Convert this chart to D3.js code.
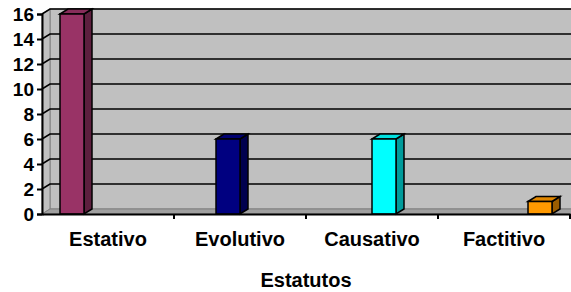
<!DOCTYPE html>
<html>
<head>
<meta charset="utf-8">
<script src="https://cdn.jsdelivr.net/npm/d3@7"></script>
<style>
body { margin: 0; background: #fff; }
text { font-family: Arial, "Liberation Sans", sans-serif; font-weight: bold; fill: #000; }
</style>
</head>
<body>
<div id="chart"></div>
<script>
var categories = ["Estativo", "Evolutivo", "Causativo", "Factitivo"];
var values = [16, 6, 6, 1];
var colors = ["#993366", "#000080", "#00ffff", "#ff9900"];
var yTicks = [0, 2, 4, 6, 8, 10, 12, 14, 16];
var xTitle = "Estatutos";

var width = 571, height = 292;
var dx = 8, dy = -5;   // depth of the 3d walls

var svg = d3.select("#chart").append("svg")
    .attr("width", width)
    .attr("height", height);

var y = d3.scaleLinear().domain([0, 16]).range([214, 14]);
var x = d3.scaleBand().domain(categories).range([42, 570]);
// bar centres sit a bit wider than the front axis (perspective)
var xb = d3.scalePoint().domain(categories).range([72, 540]);
var bw = 24;

function poly(pts) { return "M" + pts.map(function(p){ return p.join(","); }).join("L") + "Z"; }

// back wall
svg.append("rect")
    .attr("x", 42 + dx).attr("y", y(16) + dy)
    .attr("width", width - 42 - dx + 2).attr("height", y(0) - y(16))
    .attr("fill", "#c0c0c0").attr("stroke", "#808080");

// side wall
svg.append("path")
    .attr("d", poly([[42, y(16)], [42 + dx, y(16) + dy], [42 + dx, y(0) + dy], [42, y(0)]]))
    .attr("fill", "#c0c0c0").attr("stroke", "#808080");

// floor
svg.append("path")
    .attr("d", poly([[42, y(0)], [42 + dx, y(0) + dy], [width + 2, y(0) + dy], [width + 2, y(0)]]))
    .attr("fill", "#a0a0a0").attr("stroke", "#808080");

// gridlines
var grid = svg.append("g");
yTicks.filter(function(d){ return d > 0; }).forEach(function(t) {
    grid.append("path")
        .attr("d", "M42," + y(t) + "L" + (42 + dx) + "," + (y(t) + dy) + "L" + (width + 2) + "," + (y(t) + dy))
        .attr("fill", "none").attr("stroke", "#000").attr("stroke-width", 1.6);
});

// bars
var bars = svg.selectAll(".bar").data(values).enter().append("g").attr("class", "bar");
bars.each(function(v, i) {
    var g = d3.select(this);
    var x0 = xb(categories[i]) - bw / 2, x1 = x0 + bw;
    var top = y(v), bot = y(0);
    var c = d3.color(colors[i]);
    g.append("path")
        .attr("d", poly([[x1, top], [x1 + dx, top + dy], [x1 + dx, bot + dy], [x1, bot]]))
        .attr("fill", c.darker(1.4)).attr("stroke", "#000").attr("stroke-width", 1.5);
    g.append("path")
        .attr("d", poly([[x0, top], [x0 + dx, top + dy], [x1 + dx, top + dy], [x1, top]]))
        .attr("fill", c.darker(0.35)).attr("stroke", "#000").attr("stroke-width", 1.5);
    g.append("rect")
        .attr("x", x0).attr("y", top)
        .attr("width", bw).attr("height", bot - top)
        .attr("fill", colors[i]).attr("stroke", "#000").attr("stroke-width", 1.5);
});

// y axis
var yAxis = svg.append("g")
    .attr("transform", "translate(42,0)")
    .call(d3.axisLeft(y).tickValues(yTicks).tickSize(5).tickPadding(3));
yAxis.select(".domain").attr("stroke", "#000").attr("stroke-width", 2);
yAxis.selectAll(".tick line").attr("stroke", "#000").attr("stroke-width", 2);
yAxis.selectAll(".tick text")
    .attr("font-size", 19).style("font-family", "Arial, 'Liberation Sans', sans-serif")
    .attr("font-weight", "bold").attr("fill", "#000");

// x axis
var xAxis = svg.append("g")
    .attr("transform", "translate(0," + y(0) + ")")
    .call(d3.axisBottom(x).tickSize(0).tickPadding(18));
xAxis.select(".domain").attr("stroke", "#000").attr("stroke-width", 2);
xAxis.selectAll(".tick text")
    .attr("font-size", 20).style("font-family", "Arial, 'Liberation Sans', sans-serif")
    .attr("font-weight", "bold").attr("fill", "#000");
categories.forEach(function(c) {
    xAxis.append("line")
        .attr("x1", x(c) + x.bandwidth()).attr("x2", x(c) + x.bandwidth())
        .attr("y1", 0).attr("y2", 5)
        .attr("stroke", "#000").attr("stroke-width", 2);
});

svg.append("text")
    .attr("x", 306).attr("y", 287)
    .attr("text-anchor", "middle")
    .attr("font-size", 20)
    .text(xTitle);
</script>
</body>
</html>
